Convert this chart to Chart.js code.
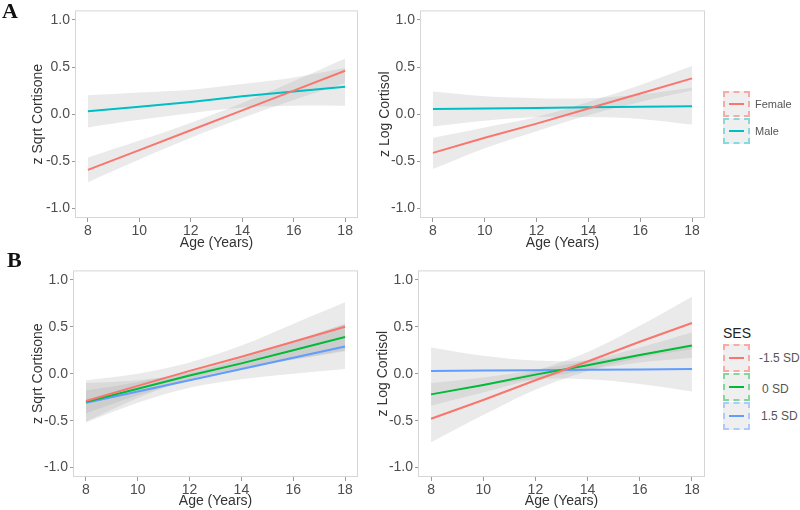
<!DOCTYPE html>
<html>
<head>
<meta charset="utf-8">
<script src="https://cdn.jsdelivr.net/npm/chart.js@4.4.0/dist/chart.umd.min.js"></script>
<style>
    body { margin: 0; background: #fff; font-family: "Liberation Sans", Arial, sans-serif; }
    #wrap { position: relative; width: 800px; height: 510px; overflow: hidden; }
    canvas { position: absolute; }
    .tag { position: absolute; font-family: "Liberation Serif", "Times New Roman", serif; font-weight: bold; font-size: 22px; line-height: 22px; color: #111; }
    .key { position: absolute; left: 723px; width: 23px; border: 2px dashed; background: #efefef; }
    .key i { position: absolute; left: 4px; width: 15px; height: 2px; }
    .keyText { position: absolute; color: #555; white-space: nowrap; }
</style>
</head>
<body>
<div id="wrap">
    <canvas id="chartA_cortisone" width="365" height="252" style="left:0px;top:0px;width:365px;height:252px"></canvas>
    <canvas id="chartA_cortisol" width="355" height="252" style="left:355px;top:0px;width:355px;height:252px"></canvas>
    <canvas id="chartB_cortisone" width="365" height="250" style="left:0px;top:260px;width:365px;height:250px"></canvas>
    <canvas id="chartB_cortisol" width="355" height="250" style="left:355px;top:260px;width:355px;height:250px"></canvas>

    <div class="tag" style="left:2px;top:0px">A</div>
    <div class="tag" style="left:7px;top:249px">B</div>

    <!-- legend A -->
    <div class="key" style="top:91px;height:22px;border-color:#f5aca6"><i style="top:10px;background:#F8766D"></i></div>
    <div class="key" style="top:118px;height:22px;border-color:#86dadd"><i style="top:10px;background:#00BFC4"></i></div>
    <div class="keyText" style="left:755px;top:97px;font-size:11px;line-height:14px">Female</div>
    <div class="keyText" style="left:755px;top:124px;font-size:11px;line-height:14px">Male</div>

    <!-- legend B -->
    <div class="keyText" style="left:723px;top:325px;font-size:14px;line-height:16px;color:#222">SES</div>
    <div class="key" style="top:344px;height:24px;border-color:#f5aca6"><i style="top:11px;background:#F8766D"></i></div>
    <div class="key" style="top:373px;height:24px;border-color:#84d69a"><i style="top:11px;background:#00BA38"></i></div>
    <div class="key" style="top:402px;height:24px;border-color:#b0c9fb"><i style="top:11px;background:#619CFF"></i></div>
    <div class="keyText" style="left:759px;top:351px;font-size:12px;line-height:14px">-1.5 SD</div>
    <div class="keyText" style="left:762px;top:382px;font-size:12px;line-height:14px">0 SD</div>
    <div class="keyText" style="left:761px;top:409px;font-size:12px;line-height:14px">1.5 SD</div>
</div>

<script>
    const ages = [8, 10, 12, 14, 16, 18];
    const xTicks = [8, 10, 12, 14, 16, 18];
    const yTicks = [-1.0, -0.5, 0.0, 0.5, 1.0];

    // A left: z Sqrt Cortisone by sex
    const aCortisone_Female = [-0.59, -0.38, -0.17, 0.04, 0.25, 0.46];
    const aCortisone_FemaleLo = [-0.72, -0.48, -0.25, -0.04, 0.15, 0.33];
    const aCortisone_FemaleHi = [-0.46, -0.28, -0.09, 0.12, 0.35, 0.59];
    const aCortisone_Male = [0.03, 0.08, 0.13, 0.19, 0.24, 0.29];
    const aCortisone_MaleLo = [-0.14, -0.06, 0.01, 0.07, 0.09, 0.09];
    const aCortisone_MaleHi = [0.20, 0.23, 0.26, 0.32, 0.39, 0.49];

    // A right: z Log Cortisol by sex
    const aCortisol_Female = [-0.41, -0.25, -0.10, 0.06, 0.22, 0.38];
    const aCortisol_FemaleLo = [-0.58, -0.36, -0.18, -0.01, 0.13, 0.25];
    const aCortisol_FemaleHi = [-0.25, -0.14, -0.03, 0.13, 0.31, 0.51];
    const aCortisol_Male = [0.055, 0.061, 0.067, 0.073, 0.079, 0.085];
    const aCortisol_MaleLo = [-0.13, -0.07, -0.03, -0.03, -0.05, -0.11];
    const aCortisol_MaleHi = [0.24, 0.19, 0.17, 0.17, 0.21, 0.28];

    // B left: z Sqrt Cortisone by SES
    const bCortisone_Low = [-0.29, -0.13, 0.03, 0.18, 0.34, 0.50];
    const bCortisone_LowLo = [-0.51, -0.26, -0.06, 0.06, 0.15, 0.24];
    const bCortisone_LowHi = [-0.07, 0.00, 0.12, 0.30, 0.53, 0.76];
    const bCortisone_Mid = [-0.30, -0.16, -0.02, 0.11, 0.25, 0.39];
    const bCortisone_MidLo = [-0.42, -0.23, -0.07, 0.04, 0.15, 0.25];
    const bCortisone_MidHi = [-0.18, -0.09, 0.03, 0.18, 0.35, 0.53];
    const bCortisone_High = [-0.31, -0.19, -0.07, 0.05, 0.17, 0.29];
    const bCortisone_HighLo = [-0.52, -0.31, -0.15, -0.06, 0.00, 0.05];
    const bCortisone_HighHi = [-0.10, -0.07, 0.01, 0.16, 0.34, 0.53];

    // B right: z Log Cortisol by SES
    const bCortisol_Low = [-0.48, -0.28, -0.07, 0.13, 0.34, 0.54];
    const bCortisol_LowLo = [-0.73, -0.44, -0.17, 0.03, 0.17, 0.26];
    const bCortisol_LowHi = [-0.23, -0.12, 0.03, 0.23, 0.51, 0.82];
    const bCortisol_Mid = [-0.22, -0.12, -0.01, 0.09, 0.20, 0.30];
    const bCortisol_MidLo = [-0.34, -0.20, -0.06, 0.04, 0.12, 0.17];
    const bCortisol_MidHi = [-0.10, -0.04, 0.04, 0.14, 0.28, 0.44];
    const bCortisol_High = [0.030, 0.034, 0.038, 0.042, 0.046, 0.050];
    const bCortisol_HighLo = [-0.22, -0.13, -0.06, -0.06, -0.11, -0.19];
    const bCortisol_HighHi = [0.28, 0.19, 0.14, 0.14, 0.21, 0.29];

    const colRed = '#F8766D';
    const colTeal = '#00BFC4';
    const colGreen = '#00BA38';
    const colBlue = '#619CFF';
    const bandFill = 'rgba(150,150,150,0.2)';

    Chart.defaults.font.family = '"Liberation Sans", Arial, sans-serif';

    const panelBox = {
        id: 'panelBox',
        afterDraw: function (chart) {
            const a = chart.chartArea;
            const c = chart.ctx;
            c.save();
            c.strokeStyle = '#d6d6d6';
            c.lineWidth = 1;
            c.strokeRect(a.left + 0.5, a.top + 0.5, a.right - a.left - 1, a.bottom - a.top - 1);
            c.restore();
        }
    };

    function toPoints(vals) {
        return ages.map(function (a, i) { return { x: a, y: vals[i] }; });
    }

    function drawPanel(canvasId, yTitle, series, box) {
        let datasets = [];

        // grey confidence bands
        for (let s of series) {
            datasets.push({
                data: toPoints(s.lo),
                borderWidth: 0,
                borderColor: 'rgba(0,0,0,0)',
                pointRadius: 0,
                tension: 0.35,
                fill: false,
                order: 2
            });
            datasets.push({
                data: toPoints(s.hi),
                borderWidth: 0,
                borderColor: 'rgba(0,0,0,0)',
                backgroundColor: bandFill,
                pointRadius: 0,
                tension: 0.35,
                fill: '-1',
                order: 2
            });
        }

        // fitted lines
        for (let s of series) {
            datasets.push({
                data: toPoints(s.mid),
                borderColor: s.color,
                borderWidth: 2,
                pointRadius: 0,
                tension: 0,
                fill: false,
                order: 1
            });
        }

        let ctx = document.getElementById(canvasId).getContext('2d');
        return new Chart(ctx, {
            type: 'line',
            data: { datasets: datasets },
            plugins: [panelBox],
            options: {
                responsive: false,
                animation: false,
                layout: { padding: { left: 0, top: 6, right: box.padRight, bottom: 0 } },
                plugins: {
                    legend: { display: false },
                    tooltip: { enabled: false }
                },
                scales: {
                    x: {
                        type: 'linear',
                        min: 7.5,
                        max: 18.5,
                        afterBuildTicks: function (scale) {
                            scale.ticks = xTicks.map(function (v) { return { value: v }; });
                        },
                        afterFit: function (scale) { scale.height = box.xHeight; },
                        ticks: {
                            color: '#4d4d4d',
                            font: { size: 14 },
                            padding: 1,
                            maxRotation: 0,
                            autoSkip: false,
                            callback: function (v) { return v; }
                        },
                        grid: { drawOnChartArea: false, drawTicks: true, tickLength: 4, color: '#9a9a9a' },
                        border: { display: false },
                        title: {
                            display: true,
                            text: 'Age (Years)',
                            color: '#333',
                            font: { size: 14 },
                            padding: { top: 0, bottom: 0 }
                        }
                    },
                    y: {
                        min: -1.1,
                        max: 1.1,
                        afterBuildTicks: function (scale) {
                            scale.ticks = yTicks.map(function (v) { return { value: v }; });
                        },
                        afterFit: function (scale) { scale.width = box.yWidth; },
                        ticks: {
                            color: '#4d4d4d',
                            font: { size: 14 },
                            padding: 2,
                            callback: function (v) { return Number(v).toFixed(1); }
                        },
                        grid: { drawOnChartArea: false, drawTicks: true, tickLength: 3, color: '#9a9a9a' },
                        border: { display: false },
                        title: {
                            display: true,
                            text: yTitle,
                            color: '#333',
                            font: { size: 14 },
                            padding: { top: box.titlePad, bottom: 0 }
                        }
                    }
                }
            }
        });
    }

    drawPanel('chartA_cortisone', 'z Sqrt Cortisone', [
        { color: colRed, mid: aCortisone_Female, lo: aCortisone_FemaleLo, hi: aCortisone_FemaleHi },
        { color: colTeal, mid: aCortisone_Male, lo: aCortisone_MaleLo, hi: aCortisone_MaleHi }
    ], { padRight: 7, xHeight: 34, yWidth: 75, titlePad: 30 });

    drawPanel('chartA_cortisol', 'z Log Cortisol', [
        { color: colRed, mid: aCortisol_Female, lo: aCortisol_FemaleLo, hi: aCortisol_FemaleHi },
        { color: colTeal, mid: aCortisol_Male, lo: aCortisol_MaleLo, hi: aCortisol_MaleHi }
    ], { padRight: 5, xHeight: 34, yWidth: 65, titlePad: 22 });

    drawPanel('chartB_cortisone', 'z Sqrt Cortisone', [
        { color: colRed, mid: bCortisone_Low, lo: bCortisone_LowLo, hi: bCortisone_LowHi },
        { color: colGreen, mid: bCortisone_Mid, lo: bCortisone_MidLo, hi: bCortisone_MidHi },
        { color: colBlue, mid: bCortisone_High, lo: bCortisone_HighLo, hi: bCortisone_HighHi }
    ], { padRight: 7, xHeight: 33, yWidth: 73, titlePad: 30 });

    drawPanel('chartB_cortisol', 'z Log Cortisol', [
        { color: colRed, mid: bCortisol_Low, lo: bCortisol_LowLo, hi: bCortisol_LowHi },
        { color: colGreen, mid: bCortisol_Mid, lo: bCortisol_MidLo, hi: bCortisol_MidHi },
        { color: colBlue, mid: bCortisol_High, lo: bCortisol_HighLo, hi: bCortisol_HighHi }
    ], { padRight: 5, xHeight: 33, yWidth: 63, titlePad: 20 });
</script>
</body>
</html>
